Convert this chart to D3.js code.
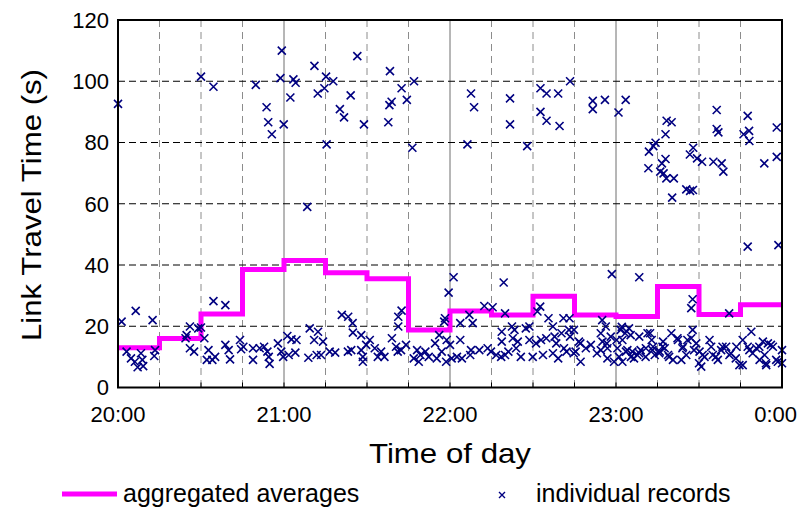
<!DOCTYPE html>
<html><head><meta charset="utf-8">
<script src="https://cdn.jsdelivr.net/npm/d3@7"></script>
<style>body{margin:0;background:#fff}svg{display:block}text{font-family:"Liberation Sans",Arial,sans-serif;fill:#000}</style>
</head><body><svg id="c" width="801" height="512"></svg>
<script>
// minutes after 20:00
const binStarts = [0,15,30,45,60,75,90,105,120,135,150,165,180,195,210,225,240];
const binAverages = [13,16,24,38.5,41.5,37.5,35.5,18.8,25,23.7,29.8,23.7,23.2,33,23.8,27,27];
const xTickMinutes = [0,60,120,180,240];
const xTickLabels = ["20:00","21:00","22:00","23:00","0:00"];
const yTicks = [0,20,40,60,80,100,120];
const seriesNames = ["aggregated averages","individual records"];
const records = [
[0,92.6],[30,101.5],[34.5,98.2],[49.8,98.8],[53.7,91.5],[54.3,86.6],[55.6,82.7],[59.2,110],[58.7,101],[59.9,85.9],[62.3,94.7],[63.4,100.6],[64.2,99.5],[68.4,59],[71,105],[72.2,96],[74.6,97.7],[75.2,101.5],[75.4,79.4],[77.8,100],[80.2,90.9],[81.7,88.2],[84.1,95.4],[86.5,108.2],[88.9,85.9],[98.3,103.3],[102.5,97.7],[98.9,93.3],[98.1,92.2],[104.4,93.9],[107,100],[97.7,86.6],[106.4,78.3],[127.6,96],[128.7,91.5],[126.3,79.4],[141.7,94.4],[141.7,85.9],[147.9,78.8],[152.7,97.7],[154.9,96],[159.1,96],[163.4,100],[152.7,90],[154.9,87.1],[159.6,85.4],[171.6,93.6],[171.6,90.9],[176,93.9],[183.5,93.9],[180.9,89.8],[198.3,87.1],[200.1,86.6],[197.9,82.7],[194.3,79.9],[193.5,78.8],[191.9,77],[191.7,71.6],[197.9,74.6],[196.6,73.2],[196,70.5],[197.2,69.9],[198.2,68.3],[200.9,68.3],[200.3,62],[207.9,78.3],[206.7,76.1],[209.3,74.8],[211.1,73.7],[205.4,64.7],[206.8,64.2],[207.8,64.5],[216.4,90.6],[216.4,84.4],[217,83.3],[215.2,73.7],[218.2,73.2],[218.8,70.5],[227.6,88.7],[228.1,83.8],[226.1,82.7],[228.2,80.5],[238.1,84.9],[238.1,75.3],[233.6,73.2],
[178.5,37],[188.4,36],[227.6,46],[238.7,46.5],[207.7,28.8],[207.2,25.9],[220.9,24.2],[121.3,36],[119.5,31],[139.4,34.3],[80.9,23.7],[83.2,23.1],[84.8,21],[101.3,23.1],[102.5,25.1],[101.3,19.9],[132.4,26.6],[135.4,26.2],[127,23.7],[128.2,21],[139.9,24.2],[118.2,22.6],[123.7,21],[152.6,26.4],[151.6,24.8],[155.6,22.6],[161,22.6],[163.2,22.6],[1.3,21.5],[6.4,25],[12.5,22],[34.5,28.2],[38.8,26.9],[26,19.9],[29,19.3],[30,19.6],[31.2,16.1],[117.9,21.5],[142.4,19.9],[175,22],
[3.1,11.7],[4.7,9.5],[6.1,8.4],[7.1,6.6],[8.8,9],[8.3,11.2],[9.1,7],[13.4,12.2],[13.1,10.3],[24.8,17.1],[24.4,16.1],[26,12.8],[27.5,11.7],[32.7,12.2],[32.1,9],[34.1,9],[35.1,10],[38.8,13.9],[40,12.2],[40.5,9.2],[44.1,15.5],[44.5,12.5],[45.3,13.3],
[48.8,12.8],[48.8,9],[51.2,12.8],[52.8,13.3],[54,11.7],[54.8,7.7],[54.5,10],[57.8,14.4],[59,11.7],[59.7,10],[61.2,16.8],[62.7,15.7],[64.5,15.5],[61.7,10.6],[64.1,11.4],[68.8,9.7],[71.8,10.6],[73.4,10.6],[69.3,19.3],[72.3,18.2],[70.9,15.5],[74.1,15],[76.5,11.7],[78.5,11.4],[84.9,17.9],[87.9,17.1],[83.1,11.7],[84.3,12.2],[87.9,12.2],[88.5,10],[88.5,8.4],[89.7,13.9],[91,15.5],[92.8,12.8],[95.1,11.7],[93.9,10],
[96.3,10],[99,16.1],[100.5,13.3],[101.1,11.7],[102.3,12.2],[104.1,13.9],[106.9,9.5],[108.1,12.2],[109.3,10.6],[108.7,8.4],[111.1,11.7],[112.3,10],[115.2,9.5],[114.6,14.4],[116.1,17.1],[117,11.7],[118.8,15.5],[120,13.9],[120.6,9.5],[118.6,8.4],[123.7,15.5],[122.5,10],[124.3,9.5],[127.6,12.2],[127.3,10.6],[130.6,12.2],[133.6,12.8],[134.8,11.7],[136.7,10.6],[138.5,10],[139.9,10.6],[141.1,11.7],[142.7,16.1],[138.7,18.2],[138.7,15],
[143.3,18.8],[144.5,15],[143.9,12.8],[145.6,10],[147.4,19.3],[148.7,15.5],[149.9,10],[148.7,19.9],[151.1,14.4],[152.9,15.5],[154.8,16.1],[153.6,10.6],[157.2,19.9],[157.8,16.6],[158.4,14.4],[157.2,11.2],[159.1,9.5],[160.3,17.7],[161.2,12.8],[162.1,11.7],[163,18.8],[164.8,18.8],[165.4,11.7],[166.6,15],[167.2,8.4],[169.1,12.8],[170.9,13.9],[174.5,17.7],[176.3,19.9],[175.1,15],[174.5,12.2],[176.9,12.8],[178.1,16.6],[176.9,9.5],[179.3,8.4],[180.5,12.8],[181.7,18.8],[182.3,15.5],[181.1,10],[184.7,19.3],[185.3,17.1],[184.1,12.2],[185.9,11.7],[187.7,10.6],[188.9,12.2],[190.7,10],[186.5,9.5],[182.3,8.4],
[163.4,16.6],[164.7,11.2],[167.1,14.4],[173.1,11.2],[176.7,14.4],[180.2,15.5],
[192.3,17.7],[192.9,15.5],[193.4,13.3],[194,10.6],[195.8,11.7],[197,15],[197.6,12.8],[198.8,10.6],[200,17.7],[200.6,9],[202.4,15.5],[204.2,13.3],[203.6,9],[205.4,10.6],[207.2,16.1],[207.7,18.8],[209,14.4],[210.2,11.7],[210.8,6.8],[212,10],[213.8,15.5],[214.4,13.3],[215,10.6],[216.8,9],[218,12.2],[219.8,13.3],[221,10.6],[223.5,13.3],[224.6,7.3],[225.8,15.5],[227.6,13.3],[228.9,18.2],[229.4,11.2],[230.7,12.8],[231.9,9],[233.1,15],[234.9,14.4],[233.7,10.6],[234.3,7.3],[236.7,13.3],[237.9,9],[238.5,8.4],[240,12.2],
[182.1,19.8],[183.3,17.7],[188.4,16.6],[191.4,17.7],[183.6,11.7],[185.4,10],[188.4,11.2],[190.8,12.8],[193.2,12.2],[195.6,11.2],[196.8,13.3],[199.2,10],[202.2,16.1],[204,12.8],[205.8,15.5],[208.2,12.2],[210,7.9],[211.3,10.6],[216.1,10],[218.5,13.3],[221.5,11.2],[223.3,9.5],[225.8,7.3],[228.2,12.2],[231.8,13.3],[234.2,7.9],[236,13.9],[240,7.9]
];

const svg = d3.select("#c");
const L=118, R=782, T=20, B=387.5;
const x = d3.scaleLinear().domain([0,240]).range([L,R]);
const y = d3.scaleLinear().domain([0,120]).range([B,T]);

svg.append("rect").attr("width",801).attr("height",512).attr("fill","#fff");

// vertical minor dashed gridlines every 15 min
const minor = d3.range(15,240,15).filter(m=>m%60!==0);
svg.append("g").selectAll("line").data(minor).join("line")
  .attr("x1",d=>x(d)).attr("x2",d=>x(d)).attr("y1",T).attr("y2",B)
  .attr("stroke","#8c8c8c").attr("stroke-width",1).attr("stroke-dasharray","7,5");
// hour gridlines
svg.append("g").selectAll("line").data([60,120,180]).join("line")
  .attr("x1",d=>x(d)).attr("x2",d=>x(d)).attr("y1",T).attr("y2",B)
  .attr("stroke","#6e6e6e").attr("stroke-width",1);
// horizontal dashed gridlines
svg.append("g").selectAll("line").data(yTicks.filter(v=>v>0&&v<120)).join("line")
  .attr("x1",L).attr("x2",R).attr("y1",d=>y(d)).attr("y2",d=>y(d))
  .attr("stroke","#000").attr("stroke-width",1).attr("stroke-dasharray","7,4");

// step line
const stepData = binStarts.map((t,i)=>[t,binAverages[i]]);
svg.append("path").datum(stepData)
  .attr("d", d3.line().x(d=>x(d[0])).y(d=>y(d[1])).curve(d3.curveStepAfter))
  .attr("fill","none").attr("stroke","#ff00ff").attr("stroke-width",5);

// markers
const cross = "M-4,-4L4,4M-4,4L4,-4";
svg.append("g").selectAll("path").data(records).join("path")
  .attr("transform",d=>`translate(${x(Math.min(d[0],240))},${y(d[1])})`)
  .attr("d",cross).attr("stroke","#000080").attr("stroke-width",1.6).attr("fill","none");

// frame
svg.append("rect").attr("x",L).attr("y",T).attr("width",R-L).attr("height",B-T)
  .attr("fill","none").attr("stroke","#000").attr("stroke-width",2);

// bottom axis minor ticks (inside)
svg.append("g").selectAll("line").data(d3.range(0,241,15)).join("line")
  .attr("x1",d=>x(d)).attr("x2",d=>x(d)).attr("y1",B).attr("y2",B-5)
  .attr("stroke","#000").attr("stroke-width",1);

// x tick labels
svg.append("g").selectAll("text").data(xTickMinutes).join("text")
  .attr("x",(d,i)=> i===xTickMinutes.length-1 ? 797 : x(d))
  .attr("y",422)
  .attr("text-anchor",(d,i)=> i===xTickMinutes.length-1 ? "end" : "middle")
  .attr("font-size",22)
  .text((d,i)=>xTickLabels[i]);

// y tick labels
svg.append("g").selectAll("text").data(yTicks).join("text")
  .attr("x",109).attr("y",d=>y(d)).attr("dy","0.36em")
  .attr("text-anchor","end").attr("font-size",22).text(d=>d);

// axis titles
svg.append("text").attr("x",450).attr("y",463).attr("text-anchor","middle")
  .attr("font-size",28).attr("textLength",162).attr("lengthAdjust","spacingAndGlyphs").text("Time of day");
svg.append("text").attr("transform","translate(41,205) rotate(-90)")
  .attr("text-anchor","middle").attr("font-size",28)
  .attr("textLength",272).attr("lengthAdjust","spacingAndGlyphs").text("Link Travel Time (s)");

// legend
svg.append("line").attr("x1",62).attr("x2",117).attr("y1",494).attr("y2",494)
  .attr("stroke","#ff00ff").attr("stroke-width",5);
svg.append("text").attr("x",123).attr("y",502).attr("font-size",25).text(seriesNames[0]);
svg.append("path").attr("transform","translate(502,495)").attr("d","M-3,-3L3,3M-3,3L3,-3")
  .attr("stroke","#000080").attr("stroke-width",1.4);
svg.append("text").attr("x",536).attr("y",502).attr("font-size",25).text(seriesNames[1]);
</script></body></html>
